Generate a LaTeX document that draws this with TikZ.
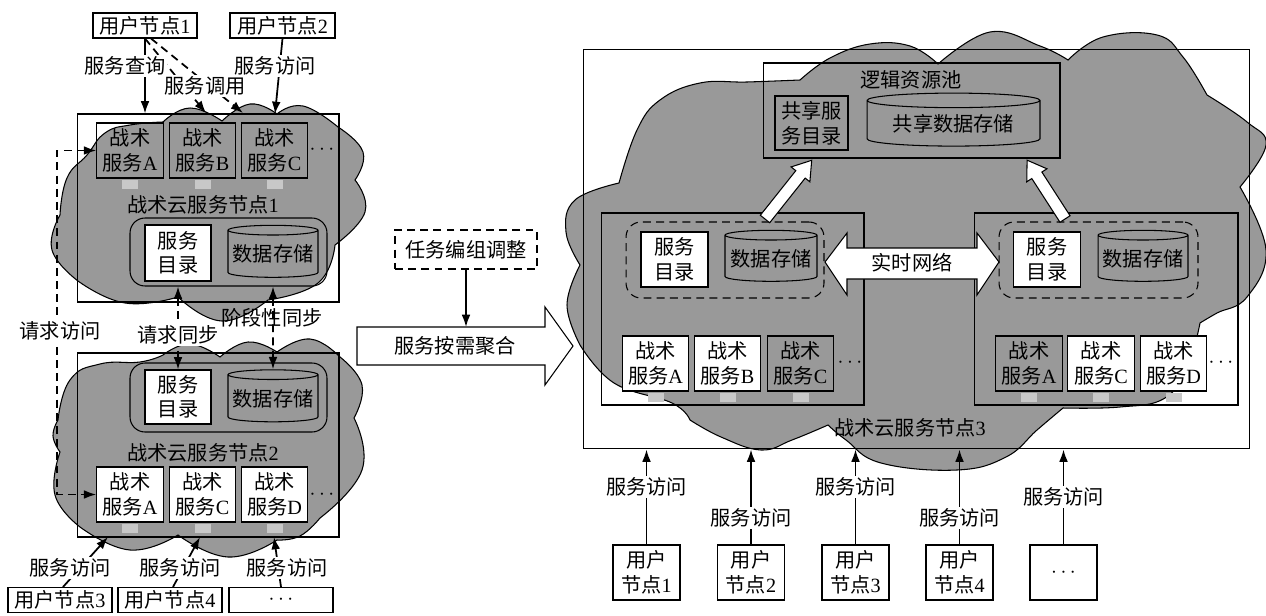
\documentclass[tikz,border=0pt]{standalone}
\usepackage{fontspec}
\setmainfont{Noto Sans CJK SC}
\newfontfamily\latfont{Liberation Serif}
\newcommand\en[1]{{\latfont #1}}
\usetikzlibrary{arrows.meta, shapes.geometric, calc}

\definecolor{cloudgray}{RGB}{153,153,153}
\definecolor{padgray}{RGB}{200,200,200}

\tikzset{
  box/.style={draw, line width=0.6pt, inner sep=0pt, align=center},
  svc/.style={box, minimum width=1.33cm, minimum height=1.1cm},
  wsvc/.style={svc, fill=white},
  dbase/.style={cylinder, shape border rotate=90, draw, line width=0.6pt, aspect=0.12, inner sep=0pt},
  lbl/.style={fill=white, inner sep=1pt},
  arr/.style={line width=1pt, ->},
  darr/.style={line width=1pt, dash pattern=on 4.5pt off 3pt},
  cloud/.style={fill=cloudgray, draw=black, line width=0.6pt},
  pad/.style={fill=padgray},
  fat/.style={draw, line width=0.6pt, fill=white}
}

\begin{document}
\begin{tikzpicture}[x=0.02cm, y=-0.02cm, >={Latex[length=7pt,width=5pt]}, font=\fontsize{11.5}{14}\selectfont]
\useasboundingbox (0,0) rectangle (1266,615);

%%%%%%%%%%%%%%%%%%%
% The clouds (one smooth bump after another)

\filldraw [cloud]
  plot[smooth, tension=0.8] coordinates {(60,215) (67,178) (87,155) (105,133) (130,125) (163,122)}
  -- plot[smooth, tension=0.8] coordinates {(163,122) (190,108) (222,121)}
  -- plot[smooth, tension=0.8] coordinates {(222,121) (250,104) (277,114)}
  -- plot[smooth, tension=0.8] coordinates {(277,114) (303,106) (338,127)}
  -- plot[smooth, tension=0.8] coordinates {(338,127) (363,152) (355,180)}
  -- plot[smooth, tension=0.8] coordinates {(355,180) (365,212) (335,245)}
  -- plot[smooth, tension=0.8] coordinates {(335,245) (318,283) (268,300)}
  -- plot[smooth, tension=0.8] coordinates {(268,300) (222,321) (178,297)}
  -- plot[smooth, tension=0.8] coordinates {(178,297) (125,303) (78,281)}
  -- plot[smooth, tension=0.8] coordinates {(78,281) (52,250) (60,215)} -- cycle;

\filldraw [cloud]
  plot[smooth, tension=0.8] coordinates {(58,420) (70,380) (100,364) (140,362) (163,355)}
  -- plot[smooth, tension=0.8] coordinates {(163,355) (190,344) (220,357)}
  -- plot[smooth, tension=0.8] coordinates {(220,357) (248,342) (277,352)}
  -- plot[smooth, tension=0.8] coordinates {(277,352) (310,339) (340,357)}
  -- plot[smooth, tension=0.8] coordinates {(340,357) (362,385) (354,418)}
  -- plot[smooth, tension=0.8] coordinates {(354,418) (362,470) (320,518)}
  -- plot[smooth, tension=0.8] coordinates {(320,518) (300,536) (277,540)}
  -- plot[smooth, tension=0.8] coordinates {(277,540) (228,557) (178,535)}
  -- plot[smooth, tension=0.8] coordinates {(178,535) (130,550) (80,527)}
  -- plot[smooth, tension=0.8] coordinates {(80,527) (55,495) (60,452)}
  -- plot[smooth, tension=0.8] coordinates {(60,452) (53,436) (58,420)} -- cycle;

\filldraw [cloud]
  plot[smooth, tension=0.7] coordinates {(580,265) (566,232) (575,200) (619,183)}
  -- plot[smooth, tension=0.7] coordinates {(619,183) (637,130) (660,100) (700,83) (747,82) (800,80)}
  -- plot[smooth, tension=0.7] coordinates {(800,80) (830,58) (870,44) (910,46) (938,64)}
  -- plot[smooth, tension=0.7] coordinates {(938,64) (990,32) (1040,46) (1068,60)}
  -- plot[smooth, tension=0.7] coordinates {(1068,60) (1103,37) (1157,35) (1183,57) (1207,95)}
  -- plot[smooth, tension=0.7] coordinates {(1207,95) (1247,122) (1266,145) (1240,187)}
  -- plot[smooth, tension=0.7] coordinates {(1240,187) (1266,250) (1247,297) (1217,313) (1200,323)}
  -- plot[smooth, tension=0.7] coordinates {(1200,323) (1188,365) (1165,398) (1120,407) (1063,408)}
  -- plot[smooth, tension=0.7] coordinates {(1063,408) (1037,430) (1006,457) (957,470) (881,463) (846,440) (828,425)}
  -- plot[smooth, tension=0.7] coordinates {(828,425) (792,440) (761,450) (721,437) (690,420)}
  -- plot[smooth, tension=0.7] coordinates {(690,420) (672,403) (614,383) (580,345)}
  -- plot[smooth, tension=0.7] coordinates {(580,345) (567,305) (580,265)} -- cycle;

%%%%%%%%%%%%%%%%%%%
% Cloud service node 1

\node [box, minimum width=5.24cm, minimum height=3.76cm] (n1) at (208,208) {};
\node [box, rounded corners=0.3cm, minimum width=3.94cm, minimum height=1.36cm] (grp1) at (228.5,252) {};
\node [svc] (a1) at (130,150.5) {战术\\服务\en{A}};
\node [svc] (b1) at (202.5,150.5) {战术\\服务\en{B}};
\node [svc] (c1) at (274.5,150.5) {战术\\服务\en{C}};
\node (dots1) at (322,150) {$\cdots$};
\node (t1) at (203,205) {战术云服务节点\en{1}};
\node [box, fill=white, minimum width=1.32cm, minimum height=1.12cm] (dir1) at (178,253) {服务\\目录};
\node [dbase, minimum width=1.8cm, minimum height=1.04cm] (db1) at (273,254) {数据存储};

%%%%%%%%%%%%%%%%%%%
% Cloud service node 2

\node [box, minimum width=5.24cm, minimum height=3.68cm] (n2) at (208,445) {};
\node [box, rounded corners=0.3cm, minimum width=3.94cm, minimum height=1.38cm] (grp2) at (228.5,397.5) {};
\node [box, fill=white, minimum width=1.32cm, minimum height=1.08cm] (dir2) at (178,397) {服务\\目录};
\node [dbase, minimum width=1.8cm, minimum height=1.04cm] (db2) at (273,398.5) {数据存储};
\node (t2) at (203,453) {战术云服务节点\en{2}};
\node [wsvc] (a2) at (130,494.5) {战术\\服务\en{A}};
\node [wsvc] (c2) at (202.5,494.5) {战术\\服务\en{C}};
\node [wsvc] (d2) at (274.5,494.5) {战术\\服务\en{D}};
\node (dots2) at (322,495) {$\cdots$};

%%%%%%%%%%%%%%%%%%%
% Users of the left nodes

\node [box, minimum width=2.08cm, minimum height=0.5cm] (u1) at (145,25.5) {用户节点\en{1}};
\node [box, minimum width=2.1cm, minimum height=0.5cm] (u2) at (282.5,25.5) {用户节点\en{2}};
\node [box, minimum width=2.08cm, minimum height=0.5cm] (u3) at (60,600) {用户节点\en{3}};
\node [box, minimum width=2.08cm, minimum height=0.5cm] (u4) at (170,600) {用户节点\en{4}};
\node [box, minimum width=2.08cm, minimum height=0.5cm] (u5) at (281,600) {$\cdots$};

\coordinate (cB) at (206,113);
\coordinate (cC) at (243,113);
\coordinate (cD) at (275,114);
\draw [arr] (u1.south) -- (u1.south |- n1.north);
\draw [arr, dash pattern=on 4.5pt off 3pt] (u1.south) -- (cB);
\draw [arr, dash pattern=on 4.5pt off 3pt] ($(u1.south)+(6,0)$) -- (cC);
\draw [arr] (u2.south) -- (cD);
\node [lbl] at (125,66) {服务查询};
\node [lbl] at (205,86) {服务调用};
\node [lbl] at (275,66) {服务访问};

\coordinate (e1) at (108,537);
\coordinate (e2) at (200,537);
\coordinate (e3) at (274,537);
\draw [arr] ($(u3.north)+(3,0)$) -- (e1);
\draw [arr] ($(u4.north)+(3,0)$) -- (e2);
\draw [arr] (u5.north) -- (e3);
\node [lbl] at (70,568) {服务访问};
\node [lbl] at (180,568) {服务访问};
\node [lbl] at (287,568) {服务访问};

%%%%%%%%%%%%%%%%%%%
% Requests and sync between node 1 and node 2

\draw [darr, <->] (a1.west) -- ++(-39,0) |- (a2.west);
\node [lbl] at (60,331) {请求访问};
\draw [darr, <->] (dir1 |- grp1.south) -- (dir2.north);
\node [lbl] at (178,335) {请求同步};
\draw [darr, <->] (db1 |- grp1.south) -- (db2.north);
\node at (272,318) {阶段性同步};

%%%%%%%%%%%%%%%%%%%
% Aggregation

\node [box, dash pattern=on 4.5pt off 3pt, minimum width=2.84cm, minimum height=0.78cm] (tg) at (466,249.5) {任务编组调整};
\filldraw [fat] (357,327) -- (545,327) -- (545,307) -- (573,346) -- (545,385) -- (545,365) -- (357,365) -- cycle;
\node (agg) at (455,346) {服务按需聚合};
\coordinate (aggtop) at (466,327);
\draw [arr] (tg.south) -- (aggtop);

%%%%%%%%%%%%%%%%%%%
% Cloud service node 3

\node [box, minimum width=13.34cm, minimum height=8cm] (n3) at (916.5,249) {};
\node [box, minimum width=5.94cm, minimum height=1.9cm] (pool) at (911.5,110.5) {};
\node (tpool) at (911,80) {逻辑资源池};
\node [box, minimum width=1.46cm, minimum height=1.08cm] (sdir) at (811.5,123) {共享服\\务目录};
\node [dbase, minimum width=3.46cm, minimum height=1.06cm] (sdb) at (953.5,123.5) {共享数据存储};

\node [box, minimum width=5.26cm, minimum height=3.84cm] (sb1) at (732.5,309) {};
\node [box, minimum width=5.28cm, minimum height=3.84cm] (sb2) at (1106,309) {};
\node [box, rounded corners=0.3cm, dash pattern=on 4.5pt off 3pt, minimum width=3.96cm, minimum height=1.52cm] (g3) at (725,260) {};
\node [box, rounded corners=0.3cm, dash pattern=on 4.5pt off 3pt, minimum width=3.98cm, minimum height=1.52cm] (g4) at (1098.5,260) {};
\node [box, fill=white, minimum width=1.34cm, minimum height=1.1cm] (dir3) at (674.5,259.5) {服务\\目录};
\node [dbase, minimum width=1.84cm, minimum height=1.02cm] (db3) at (771,258.5) {数据存储};
\node [box, fill=white, minimum width=1.34cm, minimum height=1.1cm] (dir4) at (1047,259.5) {服务\\目录};
\node [dbase, minimum width=1.8cm, minimum height=1.02cm] (db4) at (1143,258.5) {数据存储};

\node [wsvc] (a3) at (655.5,363.5) {战术\\服务\en{A}};
\node [wsvc] (b3) at (727.5,363.5) {战术\\服务\en{B}};
\node [svc] (c3) at (800.5,363.5) {战术\\服务\en{C}};
\node (dots3) at (850,363) {$\cdots$};
\node [svc] (a4) at (1029,363.5) {战术\\服务\en{A}};
\node [wsvc] (c4) at (1101,363.5) {战术\\服务\en{C}};
\node [wsvc] (d4) at (1173.5,363.5) {战术\\服务\en{D}};
\node (dots4) at (1221,363) {$\cdots$};
\node (t3) at (910,428) {战术云服务节点\en{3}};

\foreach \s in {a1,b1,c1,a2,c2,d2,a3,b3,c3,a4,c4,d4}
  \fill [pad] ($(\s.south)+(-8,1)$) rectangle ($(\s.south)+(8,10)$);

% fat arrows up to the pool
\begin{scope}[shift={(765,219)}, rotate=51.5]
\filldraw [fat] (0,-6) -- (57,-6) -- (57,-12) -- (75,0) -- (57,12) -- (57,6) -- (0,6) -- cycle;
\end{scope}
\begin{scope}[shift={(1065,219)}, rotate=122.8]
\filldraw [fat] (0,-6) -- (52,-6) -- (52,-12) -- (70,0) -- (52,12) -- (52,6) -- (0,6) -- cycle;
\end{scope}

% real time network
\filldraw [fat] (825,262) -- (847,233) -- (847,248) -- (977,248) -- (977,233) -- (999,262)
  -- (977,295) -- (977,279) -- (847,279) -- (847,295) -- cycle;
\node (net) at (912,263) {实时网络};

%%%%%%%%%%%%%%%%%%%
% Users of node 3

\node [box, minimum width=1.34cm, minimum height=1.1cm] (r1) at (646.5,572.5) {用户\\节点\en{1}};
\node [box, minimum width=1.34cm, minimum height=1.1cm] (r2) at (751,572.5) {用户\\节点\en{2}};
\node [box, minimum width=1.34cm, minimum height=1.1cm] (r3) at (855.5,572.5) {用户\\节点\en{3}};
\node [box, minimum width=1.34cm, minimum height=1.1cm] (r4) at (959.5,572.5) {用户\\节点\en{4}};
\node [box, minimum width=1.34cm, minimum height=1.1cm] (r5) at (1063.5,572.5) {$\cdots$};

\foreach \r in {r1,r2,r3,r4,r5}
  \draw [arr] (\r.north) -- (\r.north |- n3.south);
\node [lbl] at (646.5,487) {服务访问};
\node [lbl] at (751,518) {服务访问};
\node [lbl] at (855.5,487) {服务访问};
\node [lbl] at (959.5,518) {服务访问};
\node [lbl] at (1063.5,497) {服务访问};

\end{tikzpicture}
\end{document}
